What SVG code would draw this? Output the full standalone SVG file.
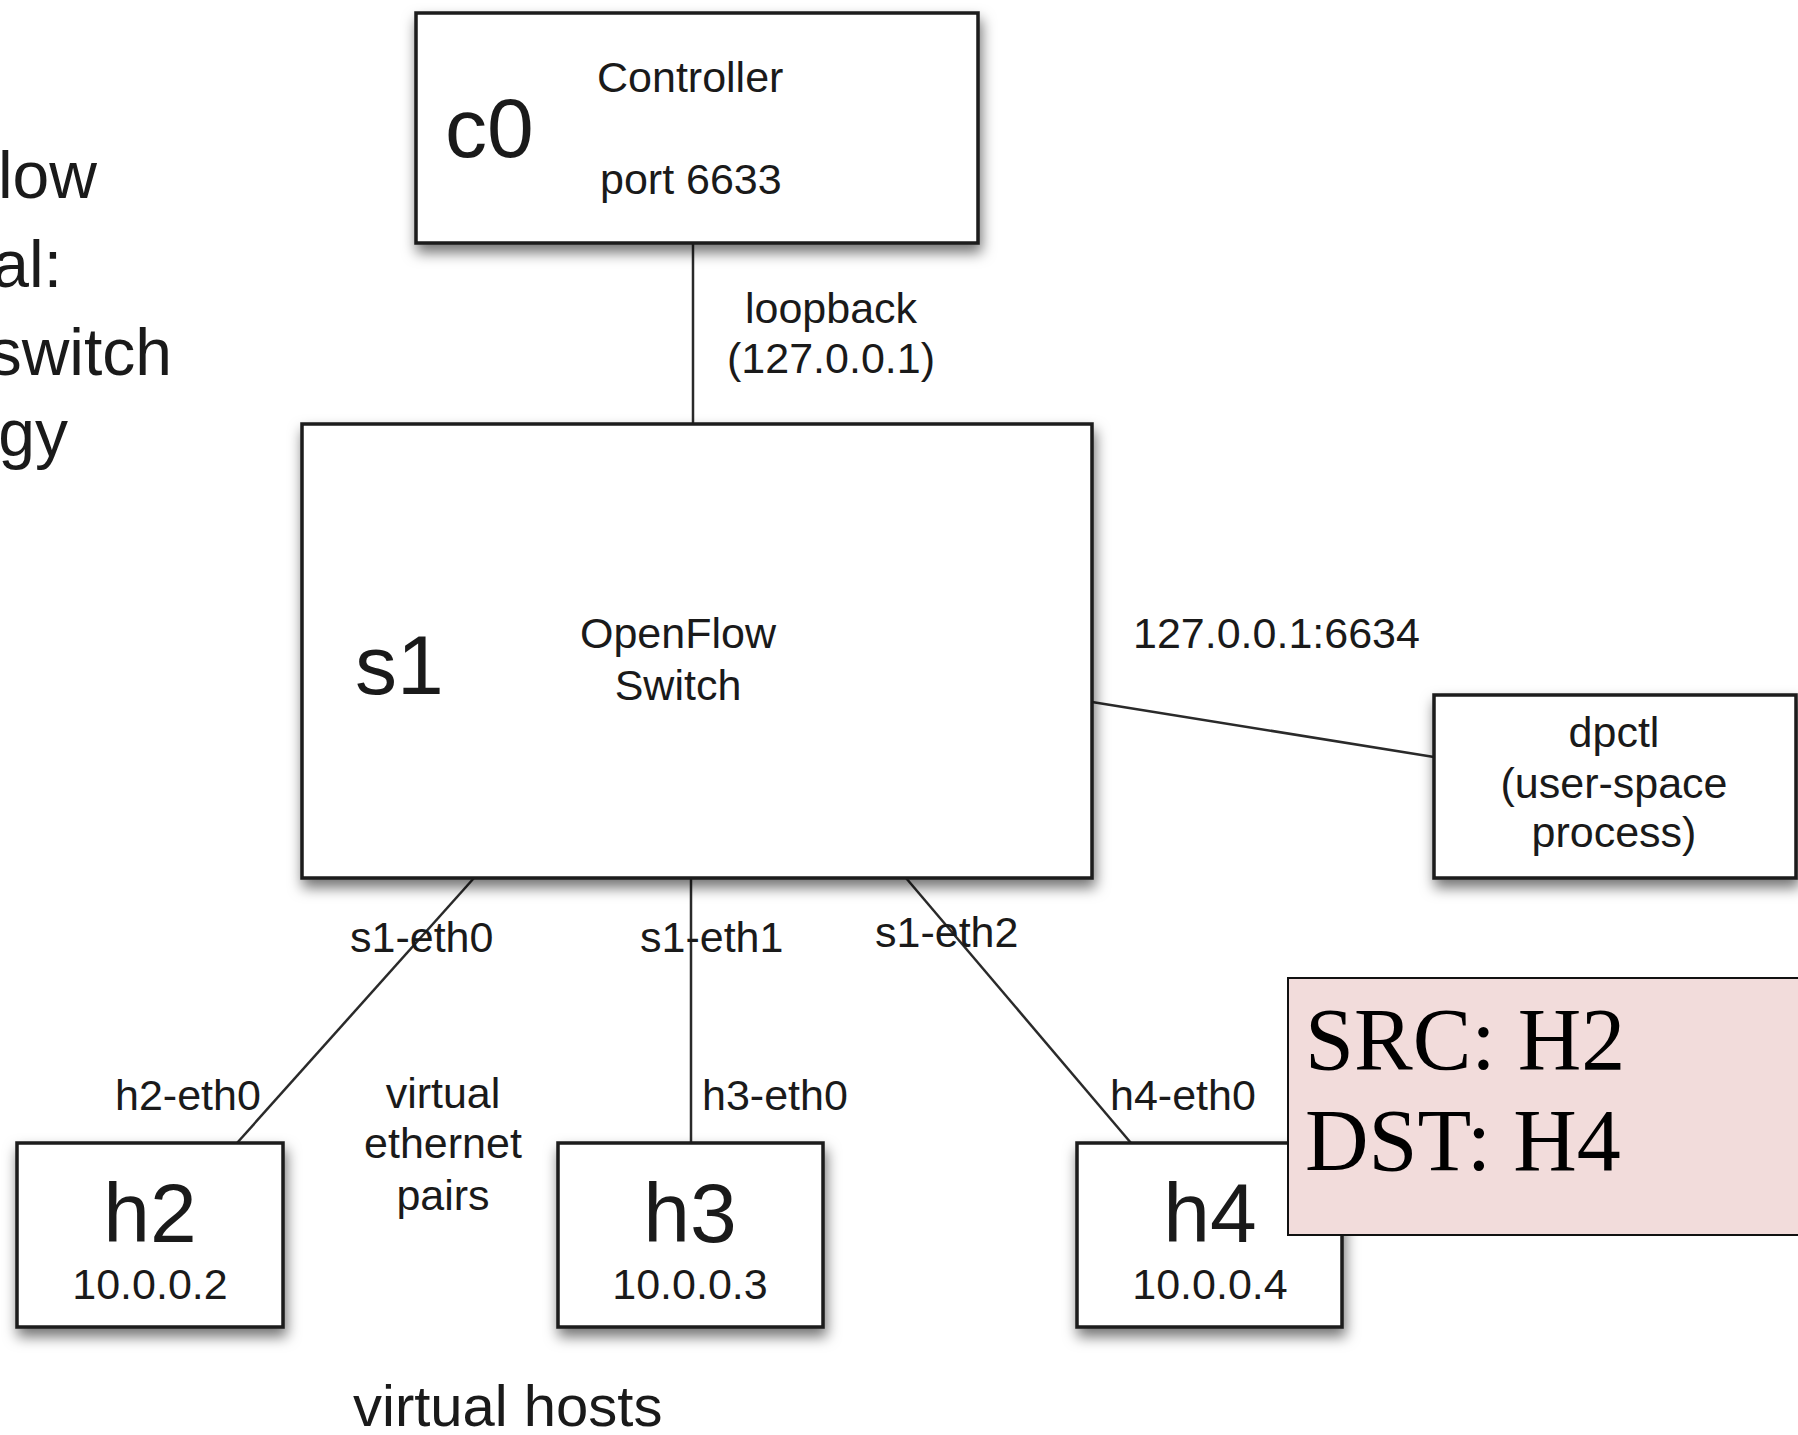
<svg xmlns="http://www.w3.org/2000/svg" width="1798" height="1435" viewBox="0 0 1798 1435">
<defs>
<filter id="sh" x="-15%" y="-15%" width="135%" height="150%">
<feDropShadow dx="2" dy="8" stdDeviation="7" flood-color="#000" flood-opacity="0.55"/>
</filter>
<style>
.box{fill:#fff;stroke:#1a1a1a;stroke-width:3.5;filter:url(#sh)}
.t{font-family:"Liberation Sans",Arial,Helvetica,sans-serif;fill:#1a1a1a}
.big{font-size:84px}
.lab{font-size:43px}
.mid{text-anchor:middle}
.ln{stroke:#2a2a2a;stroke-width:2.5;fill:none}
.side{font-family:"Liberation Sans",Arial,sans-serif;font-size:66px;fill:#1a1a1a;text-anchor:end}
</style>
</defs>
<rect width="1798" height="1435" fill="#fff"/>
<g id="side-text">
<text class="side" x="97" y="198">low</text>
<text class="side" x="62" y="287">al:</text>
<text class="side" x="172" y="375">switch</text>
<text class="side" x="68" y="456">gy</text>
</g>
<g id="connectors">
<line class="ln" x1="693" y1="243" x2="693" y2="424"/>
<line class="ln" x1="1092" y1="702" x2="1434" y2="757"/>
<line class="ln" x1="474" y1="878" x2="237" y2="1143"/>
<line class="ln" x1="691" y1="878" x2="691" y2="1143"/>
<line class="ln" x1="906" y1="878" x2="1131" y2="1143"/>
<text class="t lab mid" x="831" y="323">loopback</text>
<text class="t lab mid" x="831" y="373">(127.0.0.1)</text>
<text class="t lab" x="1133" y="648">127.0.0.1:6634</text>
<text class="t lab" x="350" y="952">s1-eth0</text>
<text class="t lab" x="640" y="952">s1-eth1</text>
<text class="t lab" x="875" y="947">s1-eth2</text>
<text class="t lab" x="115" y="1110">h2-eth0</text>
<text class="t lab" x="702" y="1110">h3-eth0</text>
<text class="t lab" x="1110" y="1110">h4-eth0</text>
<text class="t lab mid" x="443" y="1108">virtual</text>
<text class="t lab mid" x="443" y="1158">ethernet</text>
<text class="t lab mid" x="443" y="1210">pairs</text>
</g>
<g id="c0">
<rect class="box" x="416" y="13" width="562" height="230"/>
<text class="t big" x="445" y="157">c0</text>
<text class="t lab" x="597" y="92">Controller</text>
<text class="t lab" x="600" y="194">port 6633</text>
</g>
<g id="s1">
<rect class="box" x="302" y="424" width="790" height="454"/>
<text class="t big" x="355" y="694">s1</text>
<text class="t lab mid" x="678" y="648">OpenFlow</text>
<text class="t lab mid" x="678" y="700">Switch</text>
</g>
<g id="dpctl">
<rect class="box" x="1434" y="695" width="362" height="183"/>
<text class="t lab mid" x="1614" y="747">dpctl</text>
<text class="t lab mid" x="1614" y="798">(user-space</text>
<text class="t lab mid" x="1614" y="847">process)</text>
</g>
<g id="h2">
<rect class="box" x="17" y="1143" width="266" height="184"/>
<text class="t big mid" x="150" y="1242">h2</text>
<text class="t lab mid" x="150" y="1299">10.0.0.2</text>
</g>
<g id="h3">
<rect class="box" x="558" y="1143" width="265" height="184"/>
<text class="t big mid" x="690" y="1242">h3</text>
<text class="t lab mid" x="690" y="1299">10.0.0.3</text>
</g>
<g id="h4">
<rect class="box" x="1077" y="1143" width="265" height="184"/>
<text class="t big mid" x="1210" y="1242">h4</text>
<text class="t lab mid" x="1210" y="1299">10.0.0.4</text>
</g>
<g id="note">
<rect x="1288" y="978" width="512" height="257" fill="#f2dcdb" stroke="#111" stroke-width="2"/>
<text x="1305" y="1069" font-family="'Liberation Serif','Times New Roman',serif" font-size="88" fill="#000">SRC: H2</text>
<text x="1305" y="1170" font-family="'Liberation Serif','Times New Roman',serif" font-size="88" fill="#000">DST: H4</text>
</g>
<text class="t" x="353" y="1426" font-size="58">virtual hosts</text>
</svg>
